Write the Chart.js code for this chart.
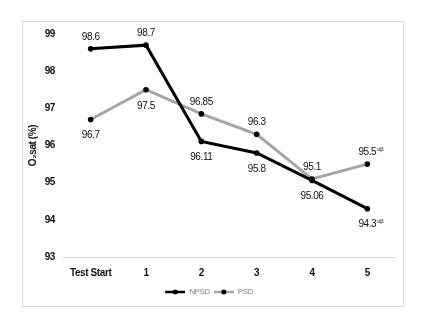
<!DOCTYPE html>
<html>
<head>
<meta charset="utf-8">
<script src="https://cdn.jsdelivr.net/npm/chart.js@4"></script>
<style>
  html, body { margin: 0; padding: 0; background: #fff; }
  .frame {
    position: absolute; left: 22px; top: 21px;
    width: 382px; height: 286px;
    box-sizing: border-box; border: 1px solid #d9d9d9; background: #fff;
  }
  canvas { display: block; }
</style>
</head>
<body>
<div class="frame"><canvas id="o2Chart" width="380" height="284"></canvas></div>
<script>
const categories = ['Test Start', '1', '2', '3', '4', '5'];
const npsdValues = [98.6, 98.7, 96.11, 95.8, 95.06, 94.3];
const psdValues = [96.7, 97.5, 96.85, 96.3, 95.1, 95.5];
const npsdNotes = ['', '', '', '', '', 'αβ'];
const psdNotes = ['', '', '', '', '', 'αβ'];
const yTicks = [93, 94, 95, 96, 97, 98, 99];

const FONT = "'Liberation Sans', Arial, sans-serif";

// label above (-1) or below (+1) each point
const npsdSide = [-1, -1, 1, 1, 1, 1];
const psdSide = [1, 1, -1, -1, -1, -1];

// line + dot legend marker, with a small blank gap on its left
function legendMarker(lineColor) {
  const c = document.createElement('canvas');
  c.width = 23; c.height = 8;
  const g = c.getContext('2d');
  g.strokeStyle = lineColor;
  g.lineWidth = 2.5;
  g.beginPath(); g.moveTo(3, 4); g.lineTo(23, 4); g.stroke();
  g.fillStyle = '#000';
  g.beginPath(); g.arc(13, 4, 2.5, 0, Math.PI * 2); g.fill();
  return c;
}

// tighten text a bit, the original uses a narrow font
const narrowText = {
  id: 'narrowText',
  beforeDraw(chart) { chart.ctx.letterSpacing = '-0.4px'; }
};

const valueLabels = {
  id: 'valueLabels',
  afterDatasetsDraw(chart) {
    const ctx = chart.ctx;
    ctx.save();
    chart.data.datasets.forEach((ds, i) => {
      const meta = chart.getDatasetMeta(i);
      meta.data.forEach((pt, j) => {
        const text = String(ds.data[j]);
        const y = pt.y + (ds.labelSide[j] < 0 ? -12 : 16);
        ctx.font = '10px ' + FONT;
        ctx.fillStyle = '#111';
        ctx.textAlign = 'center';
        ctx.textBaseline = 'middle';
        ctx.fillText(text, pt.x, y);
        const note = ds.notes[j];
        if (note) {
          const w = ctx.measureText(text).width;
          ctx.font = '6px ' + FONT;
          ctx.textAlign = 'left';
          ctx.fillText(note, pt.x + w / 2 + 1, y - 3);
        }
      });
    });
    ctx.restore();
  }
};

new Chart(document.getElementById('o2Chart'), {
  type: 'line',
  data: {
    labels: categories,
    datasets: [
      {
        label: 'NPSD',
        data: npsdValues,
        notes: npsdNotes,
        labelSide: npsdSide,
        borderColor: '#000',
        borderWidth: 3,
        pointBackgroundColor: '#000',
        pointBorderColor: '#000',
        pointBorderWidth: 0,
        pointRadius: 2.8,
        tension: 0
      },
      {
        label: 'PSD',
        data: psdValues,
        notes: psdNotes,
        labelSide: psdSide,
        borderColor: '#a6a6a6',
        borderWidth: 3,
        pointBackgroundColor: '#000',
        pointBorderColor: '#000',
        pointBorderWidth: 0,
        pointRadius: 2.8,
        tension: 0
      }
    ]
  },
  options: {
    responsive: false,
    animation: false,
    layout: { padding: { top: 12, right: 8, left: 0, bottom: 0 } },
    plugins: {
      tooltip: { enabled: false },
      legend: {
        position: 'bottom',
        labels: {
          usePointStyle: true,
          pointStyleWidth: 23,
          padding: 1,
          color: '#808080',
          font: { family: FONT, size: 8 },
          generateLabels(chart) {
            return chart.data.datasets.map((ds, i) => ({
              text: ds.label,
              pointStyle: legendMarker(ds.borderColor),
              fontColor: '#808080',
              datasetIndex: i,
              hidden: false,
              lineWidth: 0
            }));
          }
        }
      }
    },
    scales: {
      x: {
        offset: true,
        grid: { display: false },
        border: { color: '#d9d9d9', width: 1 },
        ticks: {
          color: '#111',
          padding: 2,
          maxRotation: 0,
          minRotation: 0,
          autoSkip: false,
          font: { family: FONT, size: 10, weight: 'bold' }
        },
        afterFit(scale) { scale.height = 30; }
      },
      y: {
        min: 93,
        max: 99,
        afterBuildTicks(scale) { scale.ticks = yTicks.map(v => ({ value: v })); },
        grid: { display: false },
        border: { display: false },
        ticks: {
          color: '#111',
          padding: 0,
          font: { family: FONT, size: 10, weight: 'bold' }
        },
        title: {
          display: true,
          text: 'O₂sat (%)',
          color: '#111',
          padding: { top: 4, bottom: 0 },
          font: { family: FONT, size: 10, weight: 'bold' }
        },
        afterFit(scale) { scale.width = 40; }
      }
    }
  },
  plugins: [narrowText, valueLabels]
});
</script>
</body>
</html>
